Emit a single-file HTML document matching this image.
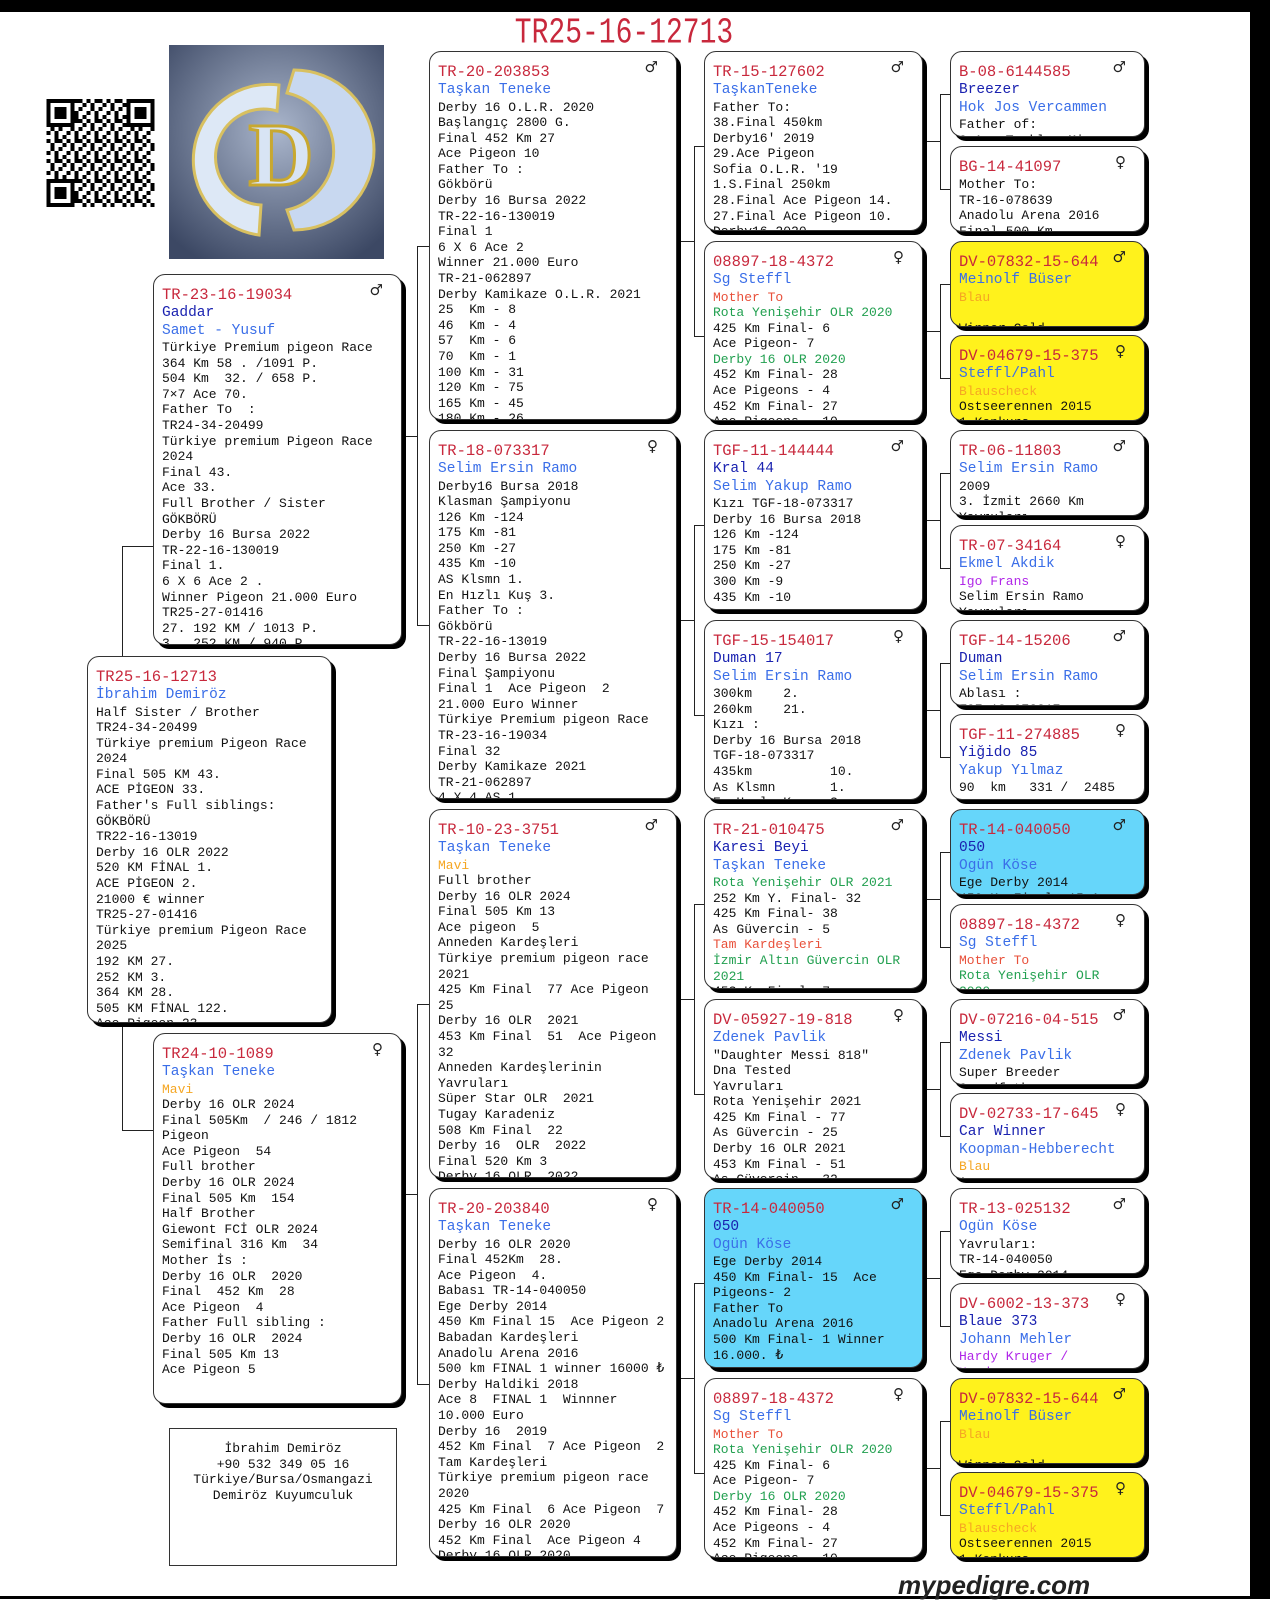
<!DOCTYPE html>
<html><head><meta charset="utf-8">
<style>
*{margin:0;padding:0;box-sizing:border-box}
body{width:1270px;height:1599px;background:#fff;position:relative;overflow:hidden;font-family:"Liberation Mono","DejaVu Sans Mono",monospace;color:#111}
.bx{position:absolute;background:#fff;border:1.5px solid #333;border-radius:12px;box-shadow:4px 4px 0 #000;overflow:hidden;padding:11px 0 0 8px;font-size:13px;line-height:15.6px;white-space:pre;z-index:2}
.bx .t{font-size:15.5px;line-height:19px;color:#c8283c;display:block}
.bx .n{font-size:14.5px;line-height:17.5px;display:block}
.sx{position:absolute;right:18px;top:8px;font-family:"DejaVu Sans",sans-serif;font-size:15px;color:#222}
.b{color:#3a6ee8}.d{color:#1a22b0}.g{color:#22a050}.o{color:#f5a623}.s{color:#e8503a}.p{color:#b026e8}
.c3{left:429px;width:248px;height:369px}
.c4{left:704px;width:219px;height:180px}
.c5{left:950px;width:195px;height:86px}
.cy{background:#66d6fa}.ye{background:#fff21c}
.h,.v{position:absolute;background:#222;z-index:1}
.h{height:1px}.v{width:1px}
</style></head><body>
<div style="position:absolute;left:0;top:0;width:1270px;height:12px;background:#000"></div>
<div style="position:absolute;left:1250px;top:0;width:20px;height:1599px;background:#000"></div>
<div style="position:absolute;left:0;top:1596px;width:1270px;height:3px;background:#000"></div>

<div style="position:absolute;left:444px;top:14px;width:360px;text-align:center;font-size:28px;color:#c8283c;transform:scaleY(1.3);transform-origin:top">TR25-16-12713</div>

<!-- QR -->
<svg style="position:absolute;left:46px;top:99px" width="109" height="108" viewBox="0 0 27 27">
<defs><pattern id="q" width="5" height="5" patternUnits="userSpaceOnUse"><rect x="0" y="0" width="1" height="1"/><rect x="2" y="0" width="2" height="1"/><rect x="1" y="1" width="1" height="2"/><rect x="3" y="2" width="1" height="1"/><rect x="0" y="3" width="1" height="1"/><rect x="2" y="3" width="1" height="2"/><rect x="4" y="4" width="1" height="1"/><rect x="4" y="1" width="1" height="1"/></pattern></defs>
<rect width="27" height="27" fill="url(#q)"/>
<g><rect x="0" y="0" width="7" height="7" fill="#fff"/><rect x="0.5" y="0.5" width="6" height="6" fill="none" stroke="#000"/><rect x="2" y="2" width="3" height="3"/>
<rect x="20" y="0" width="7" height="7" fill="#fff"/><rect x="20.5" y="0.5" width="6" height="6" fill="none" stroke="#000"/><rect x="22" y="2" width="3" height="3"/>
<rect x="0" y="20" width="7" height="7" fill="#fff"/><rect x="0.5" y="20.5" width="6" height="6" fill="none" stroke="#000"/><rect x="2" y="22" width="3" height="3"/></g>
</svg>

<!-- logo -->
<svg style="position:absolute;left:169px;top:45px" width="215" height="214" viewBox="0 0 215 214">
<defs><radialGradient id="bg" cx="50%" cy="40%" r="70%"><stop offset="0" stop-color="#aab6cc"/><stop offset="1" stop-color="#3c4864"/></radialGradient></defs>
<rect width="215" height="214" fill="url(#bg)"/>
<path d="M110 40 A75 75 0 1 0 90 190 L92 160 A48 48 0 1 1 108 66 Z" fill="#dde8f6" stroke="#d8c060" stroke-width="3"/>
<path d="M125 25 A80 80 0 0 1 125 185 L118 165 A60 60 0 0 0 118 48 Z" fill="#c8d8f0" stroke="#d8c060" stroke-width="3"/>
<text x="112" y="140" text-anchor="middle" font-family="Liberation Serif,serif" font-weight="bold" font-size="90" fill="#d8e4f4" stroke="#c8a830" stroke-width="3">D</text>
</svg>

<!-- connectors -->
<div class="v" style="left:122px;top:546px;height:584px"></div>
<div class="h" style="left:122px;top:546px;width:31px"></div>
<div class="h" style="left:122px;top:1130px;width:31px"></div>

<div class="v" style="left:417px;top:246px;height:379px"></div>
<div class="h" style="left:405px;top:436px;width:12px"></div>
<div class="h" style="left:417px;top:246px;width:12px"></div>
<div class="h" style="left:417px;top:625px;width:12px"></div>
<div class="v" style="left:417px;top:1004px;height:380px"></div>
<div class="h" style="left:405px;top:1194px;width:12px"></div>
<div class="h" style="left:417px;top:1004px;width:12px"></div>
<div class="h" style="left:417px;top:1384px;width:12px"></div>

<div class="v" style="left:694px;top:146px;height:190px"></div><div class="h" style="left:677px;top:241px;width:17px"></div><div class="h" style="left:694px;top:146px;width:10px"></div><div class="h" style="left:694px;top:336px;width:10px"></div>
<div class="v" style="left:694px;top:525px;height:190px"></div><div class="h" style="left:677px;top:620px;width:17px"></div><div class="h" style="left:694px;top:525px;width:10px"></div><div class="h" style="left:694px;top:715px;width:10px"></div>
<div class="v" style="left:694px;top:904px;height:190px"></div><div class="h" style="left:677px;top:999px;width:17px"></div><div class="h" style="left:694px;top:904px;width:10px"></div><div class="h" style="left:694px;top:1094px;width:10px"></div>
<div class="v" style="left:694px;top:1283px;height:190px"></div><div class="h" style="left:677px;top:1378px;width:17px"></div><div class="h" style="left:694px;top:1283px;width:10px"></div><div class="h" style="left:694px;top:1473px;width:10px"></div>

<div class="v" style="left:940px;top:94px;height:95px"></div><div class="h" style="left:923px;top:141px;width:17px"></div><div class="h" style="left:940px;top:94px;width:10px"></div><div class="h" style="left:940px;top:189px;width:10px"></div>
<div class="v" style="left:940px;top:284px;height:94px"></div><div class="h" style="left:923px;top:331px;width:17px"></div><div class="h" style="left:940px;top:284px;width:10px"></div><div class="h" style="left:940px;top:378px;width:10px"></div>
<div class="v" style="left:940px;top:473px;height:95px"></div><div class="h" style="left:923px;top:520px;width:17px"></div><div class="h" style="left:940px;top:473px;width:10px"></div><div class="h" style="left:940px;top:568px;width:10px"></div>
<div class="v" style="left:940px;top:663px;height:94px"></div><div class="h" style="left:923px;top:710px;width:17px"></div><div class="h" style="left:940px;top:663px;width:10px"></div><div class="h" style="left:940px;top:757px;width:10px"></div>
<div class="v" style="left:940px;top:852px;height:95px"></div><div class="h" style="left:923px;top:899px;width:17px"></div><div class="h" style="left:940px;top:852px;width:10px"></div><div class="h" style="left:940px;top:947px;width:10px"></div>
<div class="v" style="left:940px;top:1042px;height:94px"></div><div class="h" style="left:923px;top:1089px;width:17px"></div><div class="h" style="left:940px;top:1042px;width:10px"></div><div class="h" style="left:940px;top:1136px;width:10px"></div>
<div class="v" style="left:940px;top:1231px;height:95px"></div><div class="h" style="left:923px;top:1278px;width:17px"></div><div class="h" style="left:940px;top:1231px;width:10px"></div><div class="h" style="left:940px;top:1326px;width:10px"></div>
<div class="v" style="left:940px;top:1421px;height:94px"></div><div class="h" style="left:923px;top:1468px;width:17px"></div><div class="h" style="left:940px;top:1421px;width:10px"></div><div class="h" style="left:940px;top:1515px;width:10px"></div>

<!-- col1 -->
<div class="bx" style="left:87px;top:656px;width:245px;height:367px"><span class="t">TR25-16-12713</span><span class="n b">İbrahim Demiröz</span>Half Sister / Brother
TR24-34-20499
Türkiye premium Pigeon Race
2024
Final 505 KM 43.
ACE PİGEON 33.
Father's Full siblings:
GÖKBÖRÜ
TR22-16-13019
Derby 16 OLR 2022
520 KM FİNAL 1.
ACE PİGEON 2.
21000 € winner
TR25-27-01416
Türkiye premium Pigeon Race
2025
192 KM 27.
252 KM 3.
364 KM 28.
505 KM FİNAL 122.
Ace Pigeon 23</div>

<!-- col2 -->
<div class="bx" style="left:153px;top:274px;width:249px;height:371px"><span class="sx">♂</span><span class="t">TR-23-16-19034</span><span class="n d">Gaddar</span><span class="n b">Samet - Yusuf</span>Türkiye Premium pigeon Race
364 Km 58 . /1091 P.
504 Km  32. / 658 P.
7×7 Ace 70.
Father To  :
TR24-34-20499
Türkiye premium Pigeon Race
2024
Final 43.
Ace 33.
Full Brother / Sister
GÖKBÖRÜ
Derby 16 Bursa 2022
TR-22-16-130019
Final 1.
6 X 6 Ace 2 .
Winner Pigeon 21.000 Euro
TR25-27-01416
27. 192 KM / 1013 P.
3.  252 KM / 940 P.</div>
<div class="bx" style="left:153px;top:1033px;width:249px;height:371px"><span class="sx">♀</span><span class="t">TR24-10-1089</span><span class="n b">Taşkan Teneke</span><span class="o">Mavi</span>
Derby 16 OLR 2024
Final 505Km  / 246 / 1812
Pigeon
Ace Pigeon  54
Full brother
Derby 16 OLR 2024
Final 505 Km  154
Half Brother
Giewont FCİ OLR 2024
Semifinal 316 Km  34
Mother İs :
Derby 16 OLR  2020
Final  452 Km  28
Ace Pigeon  4
Father Full sibling :
Derby 16 OLR  2024
Final 505 Km 13
Ace Pigeon 5</div>
<div style="position:absolute;left:169px;top:1428px;width:228px;height:138px;border:1px solid #333;text-align:center;font-size:13px;line-height:15.6px;padding-top:12px;white-space:pre">İbrahim Demiröz
+90 532 349 05 16
Türkiye/Bursa/Osmangazi
Demiröz Kuyumculuk</div>

<!-- col3 -->
<div class="bx c3" style="top:51px"><span class="sx">♂</span><span class="t">TR-20-203853</span><span class="n b">Taşkan Teneke</span>Derby 16 O.L.R. 2020
Başlangıç 2800 G.
Final 452 Km 27
Ace Pigeon 10
Father To :
Gökbörü
Derby 16 Bursa 2022
TR-22-16-130019
Final 1
6 X 6 Ace 2
Winner 21.000 Euro
TR-21-062897
Derby Kamikaze O.L.R. 2021
25  Km - 8
46  Km - 4
57  Km - 6
70  Km - 1
100 Km - 31
120 Km - 75
165 Km - 45
180 Km - 26</div>
<div class="bx c3" style="top:430px"><span class="sx">♀</span><span class="t">TR-18-073317</span><span class="n b">Selim Ersin Ramo</span>Derby16 Bursa 2018
Klasman Şampiyonu
126 Km -124
175 Km -81
250 Km -27
435 Km -10
AS Klsmn 1.
En Hızlı Kuş 3.
Father To :
Gökbörü
TR-22-16-13019
Derby 16 Bursa 2022
Final Şampiyonu
Final 1  Ace Pigeon  2
21.000 Euro Winner
Türkiye Premium pigeon Race
TR-23-16-19034
Final 32
Derby Kamikaze 2021
TR-21-062897
4 X 4 AS 1</div>
<div class="bx c3" style="top:809px"><span class="sx">♂</span><span class="t">TR-10-23-3751</span><span class="n b">Taşkan Teneke</span><span class="o">Mavi</span>
Full brother
Derby 16 OLR 2024
Final 505 Km 13
Ace pigeon  5
Anneden Kardeşleri
Türkiye premium pigeon race
2021
425 Km Final  77 Ace Pigeon
25
Derby 16 OLR  2021
453 Km Final  51  Ace Pigeon
32
Anneden Kardeşlerinin
Yavruları
Süper Star OLR  2021
Tugay Karadeniz
508 Km Final  22
Derby 16  OLR  2022
Final 520 Km 3
Derby 16 OLR  2022</div>
<div class="bx c3" style="top:1188px"><span class="sx">♀</span><span class="t">TR-20-203840</span><span class="n b">Taşkan Teneke</span>Derby 16 OLR 2020
Final 452Km  28.
Ace Pigeon  4.
Babası TR-14-040050
Ege Derby 2014
450 Km Final 15  Ace Pigeon 2
Babadan Kardeşleri
Anadolu Arena 2016
500 km FINAL 1 winner 16000 ₺
Derby Haldiki 2018
Ace 8  FINAL 1  Winnner
10.000 Euro
Derby 16  2019
452 Km Final  7 Ace Pigeon  2
Tam Kardeşleri
Türkiye premium pigeon race
2020
425 Km Final  6 Ace Pigeon  7
Derby 16 OLR 2020
452 Km Final  Ace Pigeon 4
Derby 16 OLR 2020</div>

<!-- col4 -->
<div class="bx c4" style="top:51px"><span class="sx">♂</span><span class="t">TR-15-127602</span><span class="n b">TaşkanTeneke</span>Father To:
38.Final 450km
Derby16' 2019
29.Ace Pigeon
Sofia O.L.R. '19
1.S.Final 250km
28.Final Ace Pigeon 14.
27.Final Ace Pigeon 10.
Derby16 2020</div>
<div class="bx c4" style="top:241px"><span class="sx">♀</span><span class="t">08897-18-4372</span><span class="n b">Sg Steffl</span><span class="s">Mother To</span>
<span class="g">Rota Yenişehir OLR 2020</span>
425 Km Final- 6
Ace Pigeon- 7
<span class="g">Derby 16 OLR 2020</span>
452 Km Final- 28
Ace Pigeons - 4
452 Km Final- 27
Ace Pigeons - 10</div>
<div class="bx c4" style="top:430px"><span class="sx">♂</span><span class="t">TGF-11-144444</span><span class="n d">Kral 44</span><span class="n b">Selim Yakup Ramo</span>Kızı TGF-18-073317
Derby 16 Bursa 2018
126 Km -124
175 Km -81
250 Km -27
300 Km -9
435 Km -10</div>
<div class="bx c4" style="top:620px"><span class="sx">♀</span><span class="t">TGF-15-154017</span><span class="n d">Duman 17</span><span class="n b">Selim Ersin Ramo</span>300km    2.
260km    21.
Kızı :
Derby 16 Bursa 2018
TGF-18-073317
435km          10.
As Klsmn       1.
En Hızlı Kuş   3.</div>
<div class="bx c4" style="top:809px"><span class="sx">♂</span><span class="t">TR-21-010475</span><span class="n d">Karesi Beyi</span><span class="n b">Taşkan Teneke</span><span class="g">Rota Yenişehir OLR 2021</span>
252 Km Y. Final- 32
425 Km Final- 38
As Güvercin - 5
<span class="s">Tam Kardeşleri</span>
<span class="g">İzmir Altın Güvercin OLR
2021</span>
453 Km Final- 7</div>
<div class="bx c4" style="top:999px"><span class="sx">♀</span><span class="t">DV-05927-19-818</span><span class="n b">Zdenek Pavlik</span>"Daughter Messi 818"
Dna Tested
Yavruları
Rota Yenişehir 2021
425 Km Final - 77
As Güvercin - 25
Derby 16 OLR 2021
453 Km Final - 51
As Güvercin - 32</div>
<div class="bx c4 cy" style="top:1188px"><span class="sx">♂</span><span class="t">TR-14-040050</span><span class="n d">050</span><span class="n b">Ogün Köse</span>Ege Derby 2014
450 Km Final- 15  Ace
Pigeons- 2
Father To
Anadolu Arena 2016
500 Km Final- 1 Winner
16.000. ₺</div>
<div class="bx c4" style="top:1378px"><span class="sx">♀</span><span class="t">08897-18-4372</span><span class="n b">Sg Steffl</span><span class="s">Mother To</span>
<span class="g">Rota Yenişehir OLR 2020</span>
425 Km Final- 6
Ace Pigeon- 7
<span class="g">Derby 16 OLR 2020</span>
452 Km Final- 28
Ace Pigeons - 4
452 Km Final- 27
Ace Pigeons - 10</div>

<!-- col5 -->
<div class="bx c5" style="top:51px"><span class="sx">♂</span><span class="t">B-08-6144585</span><span class="n d">Breezer</span><span class="n b">Hok Jos Vercammen</span>Father of:
2.Ace Teaklen Mi...</div>
<div class="bx c5" style="top:146px"><span class="sx">♀</span><span class="t">BG-14-41097</span>Mother To:
TR-16-078639
Anadolu Arena 2016
Final 500 Km</div>
<div class="bx c5 ye" style="top:241px"><span class="sx">♂</span><span class="t">DV-07832-15-644</span><span class="n b">Meinolf Büser</span><span class="o">Blau</span>

Winner Gold...</div>
<div class="bx c5 ye" style="top:335px"><span class="sx">♀</span><span class="t">DV-04679-15-375</span><span class="n b">Steffl/Pahl</span><span class="o">Blauscheck</span>
Ostseerennen 2015
1.Konkurs...</div>
<div class="bx c5" style="top:430px"><span class="sx">♂</span><span class="t">TR-06-11803</span><span class="n b">Selim Ersin Ramo</span>2009
3. İzmit 2660 Km
Yavruları</div>
<div class="bx c5" style="top:525px"><span class="sx">♀</span><span class="t">TR-07-34164</span><span class="n b">Ekmel Akdik</span><span class="p">Igo Frans</span>
Selim Ersin Ramo
Yavruları</div>
<div class="bx c5" style="top:620px"><span class="sx">♂</span><span class="t">TGF-14-15206</span><span class="n d">Duman</span><span class="n b">Selim Ersin Ramo</span>Ablası :
TGF-18-073317</div>
<div class="bx c5" style="top:714px"><span class="sx">♀</span><span class="t">TGF-11-274885</span><span class="n d">Yiğido 85</span><span class="n b">Yakup Yılmaz</span>90  km   331 /  2485</div>
<div class="bx c5 cy" style="top:809px"><span class="sx">♂</span><span class="t">TR-14-040050</span><span class="n d">050</span><span class="n b">Ogün Köse</span>Ege Derby 2014
450 Km Final- 15 Ace</div>
<div class="bx c5" style="top:904px"><span class="sx">♀</span><span class="t">08897-18-4372</span><span class="n b">Sg Steffl</span><span class="s">Mother To</span>
<span class="g">Rota Yenişehir OLR
2020</span></div>
<div class="bx c5" style="top:999px"><span class="sx">♂</span><span class="t">DV-07216-04-515</span><span class="n d">Messi</span><span class="n b">Zdenek Pavlik</span>Super Breeder
Grandfather...</div>
<div class="bx c5" style="top:1093px"><span class="sx">♀</span><span class="t">DV-02733-17-645</span><span class="n d">Car Winner</span><span class="n b">Koopman-Hebberecht</span><span class="o">Blau</span>
Ace...</div>
<div class="bx c5" style="top:1188px"><span class="sx">♂</span><span class="t">TR-13-025132</span><span class="n b">Ogün Köse</span>Yavruları:
TR-14-040050
Ege Derby 2014</div>
<div class="bx c5" style="top:1283px"><span class="sx">♀</span><span class="t">DV-6002-13-373</span><span class="n d">Blaue 373</span><span class="n b">Johann Mehler</span><span class="p">Hardy Kruger /
Hardy...</span></div>
<div class="bx c5 ye" style="top:1378px"><span class="sx">♂</span><span class="t">DV-07832-15-644</span><span class="n b">Meinolf Büser</span><span class="o">Blau</span>

Winner Gold...</div>
<div class="bx c5 ye" style="top:1472px"><span class="sx">♀</span><span class="t">DV-04679-15-375</span><span class="n b">Steffl/Pahl</span><span class="o">Blauscheck</span>
Ostseerennen 2015
1.Konkurs...</div>

<div style="position:absolute;left:898px;top:1570px;font-family:'Liberation Sans',sans-serif;font-weight:bold;font-style:italic;font-size:26px;line-height:30px;color:#222">mypedigre.com</div>
</body></html>
